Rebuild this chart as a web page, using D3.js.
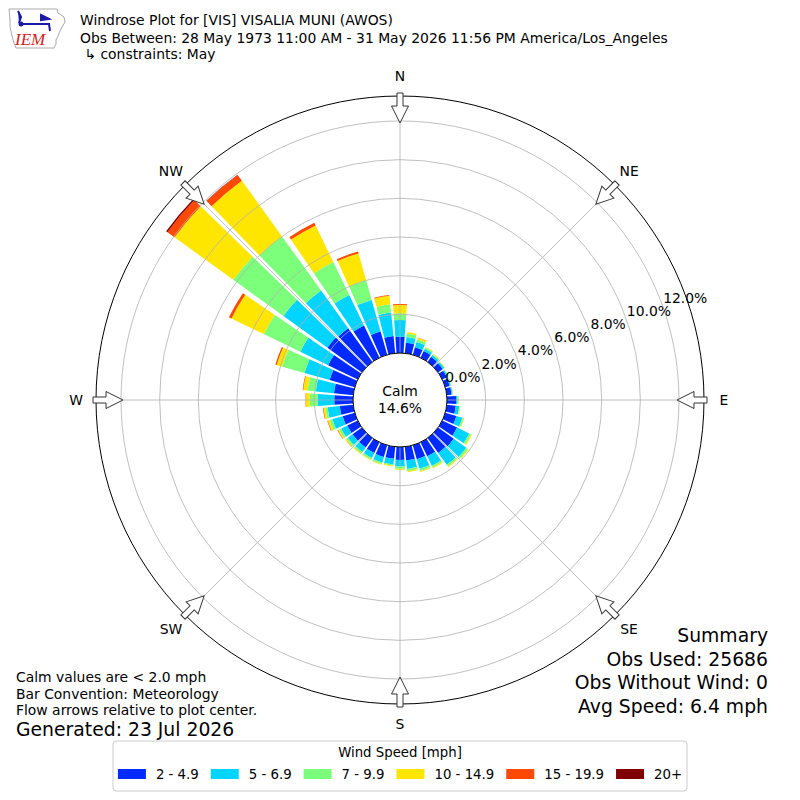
<!DOCTYPE html>
<html lang="en">
<head>
  <meta charset="UTF-8">
  <script src="https://cdn.jsdelivr.net/npm/d3@7"></script>
  <title>Windrose Plot</title>
  <style>
    body { margin: 0; background: #fff; }
    text { font-family: "DejaVu Sans", sans-serif; fill: #000; }
  </style>
</head>
<body>
<script>
  // wind direction bins (degrees, met convention)
  var directions = [0, 10, 20, 30, 40, 50, 60, 70, 80, 90, 100, 110,
                    120, 130, 140, 150, 160, 170, 180, 190, 200, 210, 220, 230,
                    240, 250, 260, 270, 280, 290, 300, 310, 320, 330, 340, 350];

  // speed bin labels
  var speedBins = ["2 - 4.9", "5 - 6.9", "7 - 9.9", "10 - 14.9", "15 - 19.9", "20+"];

  // percent of obs per direction, one array per speed bin
  var spd2to5 = [0.84, 0.55, 0.41, 0.38, 0.32, 0.30, 0.27, 0.24, 0.25, 0.47, 0.47, 0.60,
                 0.85, 1.00, 0.95, 0.80, 0.75, 0.70, 0.67, 0.62, 0.63, 0.62, 0.60, 0.60,
                 0.60, 0.65, 0.70, 0.97, 1.00, 1.35, 1.70, 2.20, 2.15, 1.85, 1.25, 0.89];
  var spd5to7 = [0.87, 0.29, 0.28, 0.14, 0.12, 0.09, 0.07, 0.06, 0.05, 0.08, 0.18, 0.32,
                 0.70, 0.80, 0.75, 0.55, 0.52, 0.45, 0.34, 0.30, 0.30, 0.28, 0.28, 0.30,
                 0.35, 0.55, 0.63, 0.85, 0.95, 1.35, 1.60, 2.80, 2.40, 1.75, 1.70, 1.23];
  var spd7to10 = [0.34, 0.18, 0.14, 0.07, 0.05, 0.04, 0.03, 0.03, 0.02, 0.05, 0.04, 0.07,
                  0.10, 0.10, 0.10, 0.10, 0.12, 0.12, 0.12, 0.07, 0.08, 0.09, 0.10, 0.10,
                  0.12, 0.15, 0.12, 0.42, 0.42, 1.20, 2.10, 3.20, 3.45, 1.90, 1.05, 0.43];
  var spd10to15 = [0.43, 0.08, 0.09, 0.03, 0.03, 0.02, 0.01, 0.01, 0.01, 0.02, 0.02, 0.03,
                   0.05, 0.05, 0.05, 0.05, 0.05, 0.05, 0.05, 0.03, 0.04, 0.04, 0.05, 0.06,
                   0.07, 0.10, 0.10, 0.20, 0.23, 0.30, 1.85, 3.75, 3.55, 2.10, 1.45, 0.44];
  var spd15to20 = [0.05, 0.00, 0.01, 0.00, 0.00, 0.00, 0.00, 0.00, 0.00, 0.00, 0.00, 0.00,
                   0.00, 0.00, 0.00, 0.00, 0.00, 0.00, 0.00, 0.00, 0.00, 0.00, 0.00, 0.01,
                   0.02, 0.03, 0.03, 0.02, 0.03, 0.07, 0.15, 0.45, 0.37, 0.15, 0.10, 0.04];
  var spd20up = [0.00, 0.00, 0.00, 0.00, 0.00, 0.00, 0.00, 0.00, 0.00, 0.00, 0.00, 0.00,
                 0.00, 0.00, 0.00, 0.00, 0.00, 0.00, 0.00, 0.00, 0.00, 0.00, 0.00, 0.00,
                 0.00, 0.00, 0.00, 0.00, 0.00, 0.00, 0.00, 0.08, 0.02, 0.00, 0.00, 0.00];

  var calmPct = 14.6;
  var radialTicks = [0, 2, 4, 6, 8, 10, 12];
  var compassLabels = ["N", "NE", "E", "SE", "S", "SW", "W", "NW"];
  var compassAngles = [0, 45, 90, 135, 180, 225, 270, 315];

  var width = 800, height = 800;
  var cx = 400, cy = 400, outerR = 304;

  var svg = d3.select("body").append("svg")
    .attr("width", width)
    .attr("height", height);

  // jet-like colours for the speed bins
  var color = d3.scaleOrdinal()
    .domain(speedBins)
    .range(["#002aff", "#00d4ff", "#7cff7b", "#ffe600", "#ff4800", "#800000"]);

  // radius scale: 0% sits on the calm circle
  var r = d3.scaleLinear().domain([0, 12]).range([47, 279]);
  var ang = d3.scaleLinear().domain([0, 360]).range([0, 2 * Math.PI]);
  var halfBar = ang(8.4) / 2;

  var series = [spd2to5, spd5to7, spd7to10, spd10to15, spd15to20, spd20up];
  var rows = directions.map(function(d, i) {
    var row = {dir: d};
    speedBins.forEach(function(b, j) { row[b] = series[j][i]; });
    return row;
  });
  var stacked = d3.stack().keys(speedBins)(rows);

  var g = svg.append("g").attr("transform", "translate(" + cx + "," + cy + ")");

  var arc = d3.arc()
    .innerRadius(function(d) { return r(d[0]); })
    .outerRadius(function(d) { return r(d[1]); })
    .startAngle(function(d) { return ang(d.data.dir) - halfBar; })
    .endAngle(function(d) { return ang(d.data.dir) + halfBar; });

  // bars
  g.selectAll("g.layer").data(stacked).enter()
    .append("g").attr("class", "layer")
    .attr("fill", function(d) { return color(d.key); })
    .selectAll("path")
    .data(function(d) { return d.filter(function(s) { return s[1] - s[0] > 0; }); })
    .enter().append("path")
    .attr("d", arc);

  // grid rings
  g.selectAll("circle.ring").data(radialTicks.slice(1)).enter()
    .append("circle").attr("class", "ring")
    .attr("r", function(d) { return r(d); })
    .attr("fill", "none")
    .attr("stroke", "#b0b0b0")
    .attr("stroke-width", 0.8);

  // radial grid lines
  g.selectAll("line.spoke").data(compassAngles).enter()
    .append("line").attr("class", "spoke")
    .attr("x1", function(d) { return r(0) * Math.sin(ang(d)); })
    .attr("y1", function(d) { return -r(0) * Math.cos(ang(d)); })
    .attr("x2", function(d) { return outerR * Math.sin(ang(d)); })
    .attr("y2", function(d) { return -outerR * Math.cos(ang(d)); })
    .attr("stroke", "#b0b0b0")
    .attr("stroke-width", 0.8);

  // outer frame
  g.append("circle").attr("r", outerR)
    .attr("fill", "none").attr("stroke", "#000").attr("stroke-width", 1);

  // calm circle
  g.append("circle").attr("r", r(0))
    .attr("fill", "#fff").attr("stroke", "#000").attr("stroke-width", 1);
  g.append("text").attr("x", 0).attr("y", -4).attr("text-anchor", "middle")
    .style("font-size", "13.9px").text("Calm");
  g.append("text").attr("x", 0).attr("y", 13).attr("text-anchor", "middle")
    .style("font-size", "13.9px").text(calmPct.toFixed(1) + "%");

  // radial tick labels
  var labelAng = ang(70);
  g.selectAll("text.rtick").data(radialTicks).enter()
    .append("text").attr("class", "rtick")
    .attr("x", function(d) { return r(d) * Math.sin(labelAng) + 1; })
    .attr("y", function(d) { return -r(d) * Math.cos(labelAng) - 2; })
    .style("font-size", "13.9px")
    .text(function(d) { return d3.format(".1f")(d) + "%"; });

  // flow arrows pointing to centre
  var arrowPath = "M-3,-307 L3,-307 L3,-294 L8.5,-294 L0,-277 L-8.5,-294 L-3,-294 Z";
  g.selectAll("path.arrow").data(compassAngles).enter()
    .append("path").attr("class", "arrow")
    .attr("d", arrowPath)
    .attr("transform", function(d) { return "rotate(" + d + ")"; })
    .attr("fill", "#fff")
    .attr("stroke", "#333")
    .attr("stroke-width", 1);

  // compass labels
  g.selectAll("text.compass").data(compassAngles).enter()
    .append("text").attr("class", "compass")
    .attr("x", function(d) { return 324 * Math.sin(ang(d)); })
    .attr("y", function(d) { return -324 * Math.cos(ang(d)) + 5; })
    .attr("text-anchor", "middle")
    .style("font-size", "13.9px")
    .text(function(d, i) { return compassLabels[i]; });

  // logo
  var logo = svg.append("g");
  logo.append("path")
    .attr("d", "M9,9 L57,9 L58,13 L64,17 L65,22 L62,27 L60,31 L58,36 L56,40 L56,44 L54,48 L16,48 L14,43 L12,36 L10,27 L10,19 Z")
    .attr("fill", "none").attr("stroke", "#aaa").attr("stroke-width", 1);
  logo.append("path")
    .attr("d", "M18,11 L21,17 L19,23 M20,24 L50,24 M41,15 L49,19 L41,20 Z M49,24 L50,31")
    .attr("fill", "#1a1aa6").attr("stroke", "#1a1aa6").attr("stroke-width", 2);
  logo.append("circle").attr("cx", 21).attr("cy", 24).attr("r", 2.5).attr("fill", "#1a1aa6");
  logo.append("text").attr("x", 15).attr("y", 45)
    .style("font-family", "'Liberation Serif', serif")
    .style("font-style", "italic")
    .style("font-size", "17px")
    .style("fill", "#d42020")
    .text("IEM");

  // titles
  var titles = ["Windrose Plot for [VIS] VISALIA MUNI (AWOS)",
                "Obs Between: 28 May 1973 11:00 AM - 31 May 2026 11:56 PM America/Los_Angeles",
                " \u21b3 constraints: May"];
  var titleY = [25, 43, 59];
  svg.selectAll("text.title").data(titles).enter()
    .append("text").attr("class", "title")
    .attr("x", 80)
    .attr("y", function(d, i) { return titleY[i]; })
    .attr("xml:space", "preserve")
    .style("white-space", "pre")
    .style("font-size", "13.9px")
    .text(function(d) { return d; });

  // notes, bottom left
  var notes = ["Calm values are < 2.0 mph", "Bar Convention: Meteorology",
               "Flow arrows relative to plot center."];
  svg.selectAll("text.note").data(notes).enter()
    .append("text").attr("class", "note")
    .attr("x", 16)
    .attr("y", function(d, i) { return 682 + i * 16.5; })
    .style("font-size", "13.9px")
    .text(function(d) { return d; });
  svg.append("text").attr("x", 16).attr("y", 736)
    .style("font-size", "18.8px").text("Generated: 23 Jul 2026");

  // summary, bottom right
  var summary = ["Summary", "Obs Used: 25686", "Obs Without Wind: 0", "Avg Speed: 6.4 mph"];
  svg.selectAll("text.summary").data(summary).enter()
    .append("text").attr("class", "summary")
    .attr("x", 768)
    .attr("y", function(d, i) { return 642 + i * 23.5; })
    .attr("text-anchor", "end")
    .style("font-size", "18.8px")
    .text(function(d) { return d; });

  // legend
  var legend = svg.append("g");
  legend.append("rect")
    .attr("x", 113).attr("y", 741).attr("width", 574).attr("height", 50)
    .attr("rx", 3)
    .attr("fill", "#fff").attr("stroke", "#ccc").attr("stroke-width", 1);
  legend.append("text").attr("x", 400).attr("y", 757)
    .attr("text-anchor", "middle").style("font-size", "13.3px")
    .text("Wind Speed [mph]");

  var items = legend.selectAll("g.item").data(speedBins).enter()
    .append("g").attr("class", "item");
  items.append("rect")
    .attr("y", 769).attr("width", 28).attr("height", 10)
    .attr("fill", function(d) { return color(d); });
  items.append("text")
    .attr("y", 779).style("font-size", "13.3px")
    .text(function(d) { return d; });

  // lay out legend entries side by side
  var lens = [];
  items.select("text").each(function() { lens.push(this.getComputedTextLength()); });
  var total = d3.sum(lens) + speedBins.length * 38 + (speedBins.length - 1) * 12;
  var x0 = 400 - total / 2;
  items.each(function(d, i) {
    d3.select(this).select("rect").attr("x", x0);
    d3.select(this).select("text").attr("x", x0 + 38);
    x0 += 38 + lens[i] + 12;
  });
</script>
</body>
</html>
